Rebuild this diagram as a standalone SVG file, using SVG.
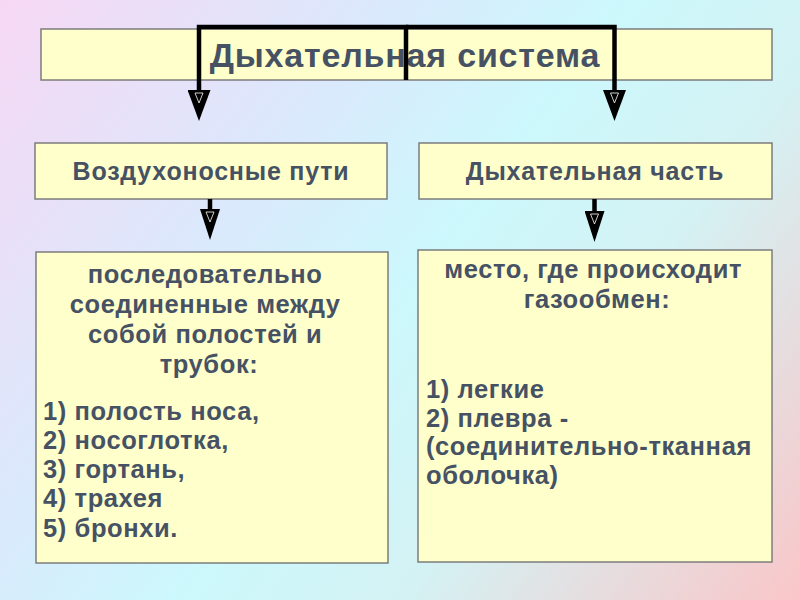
<svg xmlns="http://www.w3.org/2000/svg" width="800" height="600" viewBox="0 0 800 600">
<defs>
<linearGradient id="bg" x1="0" y1="0" x2="800" y2="600" gradientUnits="userSpaceOnUse">
<stop offset="0" stop-color="#f7d8f4"/>
<stop offset="0.3" stop-color="#dbe8fc"/>
<stop offset="0.5" stop-color="#ccf8fc"/>
<stop offset="0.68" stop-color="#d4f2f4"/>
<stop offset="1" stop-color="#fac6c8"/>
</linearGradient>
<marker id="ah1" viewBox="0 0 31 23" refX="0" refY="11.5" markerWidth="31" markerHeight="23" markerUnits="userSpaceOnUse" orient="auto">
<path d="M0,0 L31,11.5 L0,23 Z" fill="#000"/>
<path d="M3,7.5 L13,11.5 L3,15.5 Z" fill="none" stroke="#fff" stroke-width="0.8"/>
</marker>
<marker id="ah2" viewBox="0 0 31 20" refX="0" refY="10" markerWidth="31" markerHeight="20" markerUnits="userSpaceOnUse" orient="auto">
<path d="M0,0 L31,10 L0,20 Z" fill="#000"/>
<path d="M3,6 L13,10 L3,14 Z" fill="none" stroke="#fff" stroke-width="0.8"/>
</marker>
</defs>
<style>
.box{fill:#ffffcc;stroke:#7c7c7c;stroke-width:1.5}
.t{font-family:"Liberation Sans",Arial,sans-serif;font-weight:bold;fill:#465264}
.c{text-anchor:middle}
.h1{font-size:34px;letter-spacing:0.8px}
.h2{font-size:25px;letter-spacing:0.8px}
.b{font-size:25.5px;letter-spacing:0.6px}
.conn{fill:none;stroke:#000;stroke-width:4.5;stroke-linejoin:miter;stroke-linecap:butt}
</style>
<rect width="800" height="600" fill="url(#bg)"/>
<g id="n-system">
<rect class="box" x="41" y="29" width="731" height="51"/>
<text class="t c h1" x="405" y="67">Дыхательная система</text>
</g>
<g id="n-airways">
<rect class="box" x="35" y="143" width="352" height="56"/>
<text class="t c h2" x="211" y="180">Воздухоносные пути</text>
</g>
<g id="n-respiratory">
<rect class="box" x="419" y="143" width="353" height="56"/>
<text class="t c h2" x="595" y="180">Дыхательная часть</text>
</g>
<g id="n-airways-desc">
<rect class="box" x="36" y="252" width="352" height="311"/>
<text class="t c b">
<tspan x="209" y="283">последовательно</tspan>
<tspan x="209" y="313">соединенные между</tspan>
<tspan x="209" y="343">собой полостей и</tspan>
<tspan x="209" y="373">трубок:</tspan>
</text>
<text class="t b">
<tspan x="43" y="420">1) полость носа,</tspan>
<tspan x="43" y="449">2) носоглотка,</tspan>
<tspan x="43" y="478">3) гортань,</tspan>
<tspan x="43" y="507">4) трахея</tspan>
<tspan x="43" y="537">5) бронхи.</tspan>
</text>
</g>
<g id="n-respiratory-desc">
<rect class="box" x="418" y="250" width="354" height="312"/>
<text class="t c b">
<tspan x="597" y="278">место, где происходит</tspan>
<tspan x="597" y="308">газообмен:</tspan>
</text>
<text class="t b">
<tspan x="426" y="398">1) легкие</tspan>
<tspan x="426" y="427">2) плевра -</tspan>
<tspan x="426" y="455">(соединительно-тканная</tspan>
<tspan x="426" y="484">оболочка)</tspan>
</text>
</g>
<g id="connectors">
<path class="conn" d="M406,80 V27 H199 V90" marker-end="url(#ah1)"/>
<path class="conn" d="M406,27 H614.5 V90" marker-end="url(#ah1)"/>
<path class="conn" d="M210,199 V209" marker-end="url(#ah2)"/>
<path class="conn" d="M594.5,199 V211" marker-end="url(#ah2)"/>
</g>
</svg>
